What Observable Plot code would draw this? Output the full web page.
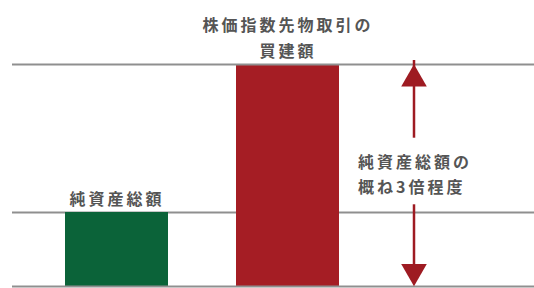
<!DOCTYPE html>
<html><head><meta charset="utf-8">
<script src="https://cdn.jsdelivr.net/npm/d3@7"></script>
<script src="https://cdn.jsdelivr.net/npm/@observablehq/plot@0.6"></script>
<style>
html,body{margin:0;padding:0;background:#fff;}
#chart svg text{letter-spacing:3px;}
</style></head><body><div id="chart"></div>
<script>
const categories = ["純資産総額", "株価指数先物取引の買建額"];
const values = [1, 3];
const barLabels = ["純資産総額", "株価指数先物取引の\n買建額"];
const barColors = ["#0b6339", "#a51d24"];
const gridValues = [0, 1, 3];
const arrowLabel = "純資産総額の\n概ね3倍程度";
const arrowFrom = 0, arrowTo = 3;

const bars = categories.map((c, i) => ({category: c, value: values[i], label: barLabels[i]}));
const arrowCat = categories[1];
const arrowColor = "#9e1b22";
const textColor = "#555555";
const arrowDx = 126;
const mid = (arrowFrom + arrowTo) / 2;
const gap = 0.45;

const chart = Plot.plot({
  width: 534,
  height: 288,
  marginLeft: 12,
  marginRight: 0,
  marginTop: 64,
  marginBottom: 2,
  style: {fontFamily: "'Noto Sans CJK JP', sans-serif", background: "#fff"},
  x: {type: "band", domain: categories, range: [65, 339], paddingInner: 0.4, paddingOuter: 0, axis: null},
  y: {domain: [0, 3], axis: null},
  color: {domain: categories, range: barColors},
  marks: [
    Plot.ruleY(gridValues.filter(v => v > 0 && v < 3), {stroke: "#8f8f8f", strokeWidth: 2}),
    Plot.barY(bars, {x: "category", y: "value", fill: "category", inset: 0}),
    Plot.ruleY(gridValues.filter(v => v === 0 || v === 3), {stroke: "#8f8f8f", strokeWidth: 2}),
    Plot.text(bars, {x: "category", y: "value", text: "label", lineAnchor: "bottom", dy: -8, fontSize: 16, fontWeight: "bold", lineHeight: 1.6, fill: textColor}),
    Plot.ruleX([{y1: arrowTo, y2: mid + gap}, {y1: mid - gap, y2: arrowFrom}], {x: () => arrowCat, y1: "y1", y2: "y2", dx: arrowDx, dy: -4, stroke: arrowColor, strokeWidth: 2.5}),
    Plot.dot([arrowTo], {x: () => arrowCat, y: d => d, symbol: "triangle", r: 9.5, fill: arrowColor, stroke: "none", dx: arrowDx, dy: 14.6}),
    Plot.dot([arrowFrom], {x: () => arrowCat, y: d => d, symbol: "triangle", r: 9.5, fill: arrowColor, stroke: "none", rotate: 180, dx: arrowDx, dy: -15}),
    Plot.text([arrowLabel], {x: () => arrowCat, y: () => mid, text: d => d, textAnchor: "start", dx: arrowDx - 56, dy: -3, fontSize: 16, fontWeight: "bold", lineHeight: 1.6, fill: textColor})
  ]
});
document.getElementById("chart").appendChild(chart);
</script></body></html>
